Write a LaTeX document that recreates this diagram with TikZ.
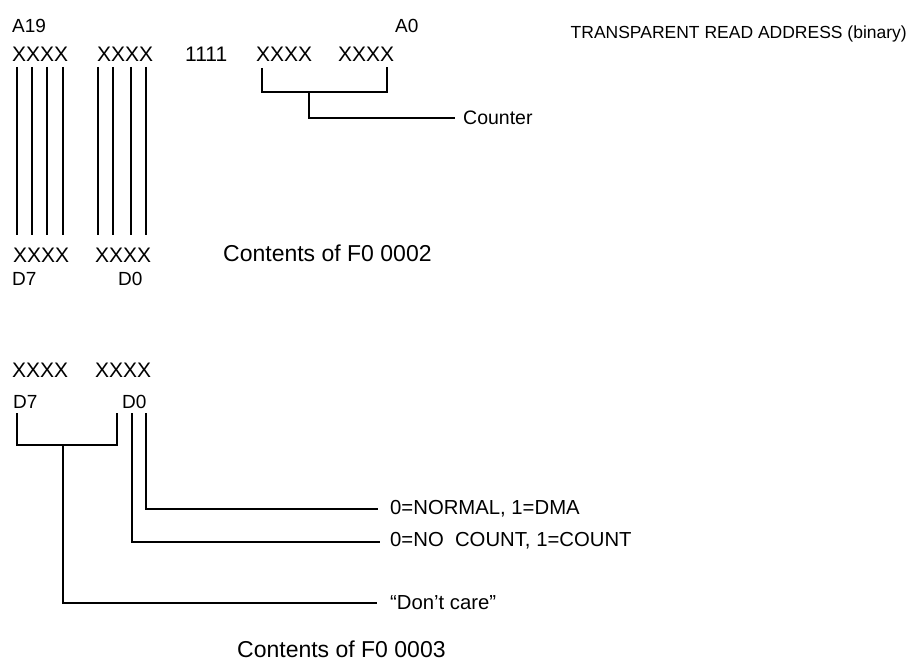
\documentclass[tikz,border=0pt]{standalone}
\usepackage{fontspec}
\setmainfont{Liberation Sans}
\begin{document}
\begin{tikzpicture}[x=1pt,y=-1pt,
  txt/.style={inner sep=0pt, anchor=base west},
  bits/.style={txt, font=\fontsize{21}{21}\selectfont},
  pin/.style={txt, font=\fontsize{19}{19}\selectfont},
  title/.style={inner sep=0pt, anchor=base east, font=\fontsize{17.5}{17.5}\selectfont},
  cnt/.style={txt, anchor=west, font=\fontsize{19.5}{19.5}\selectfont},
  note/.style={txt, anchor=west, font=\fontsize{20.3}{20.3}\selectfont},
  caption/.style={txt, font=\fontsize{23}{23}\selectfont},
  wire/.style={line width=2.8pt, line join=miter}]
\useasboundingbox (0,0) rectangle (911,661);

% ---- transparent read address ----
\node[pin] (a19) at (12,33) {A19};
\node[pin] (a0) at (395,33) {A0};
\node[bits] (hx1) at (12,62) {XXXX};
\node[bits] (hx2) at (97,62) {XXXX};
\node[bits] (ones) at (185,62) {1111};
\node[bits] (hx3) at (256,62) {XXXX};
\node[bits] (hx4) at (338,62) {XXXX};
\node[title] (tra) at (907,39) {TRANSPARENT READ ADDRESS (binary)};

% counter bracket
\coordinate (cl) at (262,68);
\coordinate (cr) at (387,67);
\coordinate (cm) at (309,92);
\coordinate (ce) at (455,118);
\draw[wire] (cl) -- (cl |- cm) -- (cr |- cm) -- (cr);
\draw[wire] (cm) |- (ce);
\node[cnt] (counter) at (463,118) {Counter};

% ---- contents of F0 0002 ----
\node[bits] (mx1) at (13,262) {XXXX};
\node[bits] (mx2) at (95,262) {XXXX};
\node[caption] (c2) at (223,261) {Contents of F0 0002};
\node[pin] (md7) at (12,285) {D7};
\node[pin] (md0) at (118,285) {D0};

% bit lines from the upper byte of the address to the register
\foreach \i/\x in {1/17,2/32,3/47,4/63,5/98,6/113,7/131,8/146}{
  \coordinate (up\i) at (\x,67);
  \coordinate (dn\i) at (\x,235);
  \draw[wire] (up\i) -- (dn\i);
}

% ---- contents of F0 0003 ----
\node[bits] (lx1) at (12,377) {XXXX};
\node[bits] (lx2) at (95,377) {XXXX};
\node[pin] (ld7) at (13,408) {D7};
\node[pin] (ld0) at (122,408) {D0};

\coordinate (bl) at (17,413);
\coordinate (br) at (117,413);
\coordinate (bm) at (63,445);
\coordinate (d1) at (132,413);
\coordinate (d0) at (146,413);
\coordinate (e0) at (378,509);
\coordinate (e1) at (380,542);
\coordinate (e2) at (377,603);

\draw[wire] (bl) -- (bl |- bm) -- (br |- bm) -- (br);
\draw[wire] (bm) |- (e2);
\draw[wire] (d1) |- (e1);
\draw[wire] (d0) |- (e0);

\node[note] (nrm) at (390,509) {0=NORMAL, 1=DMA};
\node[note] (cnt) at (390,541) {0=NO\ \ COUNT, 1=COUNT};
\node[note] (dc) at (390,603) {``Don't care''};
\node[caption] (c3) at (237,657) {Contents of F0 0003};
\end{tikzpicture}
\end{document}
